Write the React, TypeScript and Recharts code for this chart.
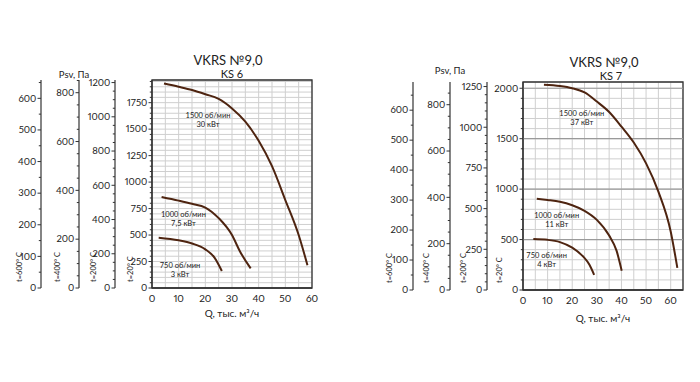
import React from 'react';
import { ComposedChart, Line, XAxis, YAxis, CartesianGrid, ReferenceArea, ReferenceLine, Scatter } from 'recharts';

const FONT = 'Lato, "DejaVu Sans", sans-serif';
const CURVE = '#4e2410';
const TXT = '#222';
const NUM_STYLE: React.CSSProperties = { fontVariantNumeric: 'proportional-nums' };

// ---------- KS 6 (left panel) ----------
const ks6_1500 = [
  { q: 4.5, p: 1930 }, { q: 10, p: 1900 }, { q: 15, p: 1870 }, { q: 20, p: 1830 },
  { q: 25, p: 1785 }, { q: 30, p: 1695 }, { q: 35, p: 1570 }, { q: 40, p: 1390 },
  { q: 45, p: 1150 }, { q: 50, p: 830 }, { q: 55, p: 500 }, { q: 58.3, p: 215 },
];
const ks6_1000 = [
  { q: 3.6, p: 860 }, { q: 10, p: 825 }, { q: 15, p: 795 }, { q: 20, p: 760 },
  { q: 25, p: 660 }, { q: 30, p: 500 }, { q: 33, p: 345 }, { q: 37, p: 185 },
];
const ks6_750 = [
  { q: 2.5, p: 475 }, { q: 10, p: 450 }, { q: 15, p: 420 }, { q: 20, p: 365 },
  { q: 23.5, p: 285 }, { q: 26.2, p: 160 },
];
const ks6Labels = [
  { q: 21, p: 1634, l1: '1500 об/мин', l2: '30 кВт' },
  { q: 11.8, p: 696, l1: '1000 об/мин', l2: '7,5 кВт' },
  { q: 10.5, p: 217, l1: '750 об/мин', l2: '3 кВт' },
];

// ---------- KS 7 (right panel) ----------
const ks7_1500 = [
  { q: 8.5, p: 2035 }, { q: 15, p: 2022 }, { q: 20, p: 2000 }, { q: 25, p: 1958 },
  { q: 30, p: 1868 }, { q: 35, p: 1765 }, { q: 40, p: 1620 }, { q: 45, p: 1462 },
  { q: 50, p: 1255 }, { q: 55, p: 975 }, { q: 60, p: 580 }, { q: 62.7, p: 220 },
];
const ks7_1000 = [
  { q: 5.6, p: 905 }, { q: 10, p: 893 }, { q: 15, p: 875 }, { q: 20, p: 840 },
  { q: 25, p: 785 }, { q: 30, p: 695 }, { q: 35, p: 540 }, { q: 38, p: 390 }, { q: 40.1, p: 190 },
];
const ks7_750 = [
  { q: 4.2, p: 505 }, { q: 10, p: 497 }, { q: 15, p: 475 }, { q: 20, p: 420 },
  { q: 24.5, p: 330 }, { q: 27, p: 250 }, { q: 28.9, p: 150 },
];
const ks7Labels = [
  { q: 23.9, p: 1752, l1: '1500 об/мин', l2: '37 кВт' },
  { q: 13.7, p: 744, l1: '1000 об/мин', l2: '11 кВт' },
  { q: 9.6, p: 347, l1: '750 об/мин', l2: '4 кВт' },
];

const tempLabels = ['t=20° C', 't=200° C', 't=400° C', 't=600° C'];

const range = (a: number, b: number, s: number) => {
  const r: number[] = [];
  for (let v = a; v <= b + 1e-9; v += s) r.push(v);
  return r;
};

const makeYTick = (major: number) => (props: any) => {
  const { x, y, payload } = props;
  const v = payload.value;
  const isMajor = Math.abs(v % major) < 1e-6;
  const len = isMajor ? 3.5 : 2.2;
  return (
    <g>
      <line x1={x} y1={y} x2={x - len} y2={y} stroke="#333" strokeWidth={1} />
      {isMajor && (
        <text x={x - len - 1.2} y={y} dy="0.35em" textAnchor="end" fontSize={9.5} fill={TXT} fontFamily={FONT} style={NUM_STYLE}>
          {v}
        </text>
      )}
    </g>
  );
};

const makeXTick = (maxLabel: number, dy: number) => (props: any) => {
  const { x, y, payload } = props;
  const v = payload.value;
  if (v % 10 !== 0 || v > maxLabel) return <g />;
  return (
    <text x={x} y={y + dy} textAnchor="middle" fontSize={10} fill={TXT} fontFamily={FONT} style={NUM_STYLE}>
      {v}
    </text>
  );
};

const makeTempLabel = (text: string, dx: number, dyBottom: number) => (props: any) => {
  const vb = props.viewBox || {};
  const x = vb.x + vb.width - dx;
  const y = vb.y + vb.height - dyBottom;
  return (
    <text x={x} y={y} transform={`rotate(-90 ${x} ${y})`} fontSize={7.5} fill={TXT} fontFamily={FONT} textAnchor="start">
      {text}
    </text>
  );
};

const makeXLabel = (dy: number) => (props: any) => {
  const vb = props.viewBox || {};
  return (
    <text x={vb.x + vb.width / 2} y={vb.y + dy} textAnchor="middle" fontSize={10} fill={TXT} fontFamily={FONT}>
      Q, тыс. м³/ч
    </text>
  );
};

const curveLabelShape = (props: any) => {
  const { cx, cy, payload } = props;
  return (
    <g>
      <text x={cx} y={cy + 2.7} textAnchor="middle" fontSize={7.5} fill={TXT} fontFamily={FONT}>{payload.l1}</text>
      <text x={cx} y={cy + 11.7} textAnchor="middle" fontSize={7.5} fill={TXT} fontFamily={FONT}>{payload.l2}</text>
    </g>
  );
};

type AxisCfg = { id: string; width: number; max: number; ticks: number[]; major: number; label: string };

type PanelCfg = {
  margin: { top: number; right: number; bottom: number; left: number };
  xMax: number;
  xTicks: number[];
  axes: AxisCfg[];
  curves: { q: number; p: number }[][];
  labels: { q: number; p: number; l1: string; l2: string }[];
  majorLines: number[];
  xLabelDy: number;
  tempDx: number;
  tempDy: number;
  xTickDy: number;
};

const MAIN = 'y0';

function Panel({ cfg }: { cfg: PanelCfg }) {
  const main = cfg.axes[0];
  return (
    <ComposedChart width={350} height={382} margin={cfg.margin}>
      <CartesianGrid yAxisId={MAIN} stroke="#cfcfcf" strokeWidth={1} />
      {cfg.majorLines.map((v) => (
        <ReferenceLine key={v} yAxisId={MAIN} y={v} stroke="#9a9a9a" strokeWidth={1.2} />
      ))}
      <XAxis
        dataKey="q"
        type="number"
        domain={[0, cfg.xMax]}
        ticks={cfg.xTicks}
        interval={0}
        allowDataOverflow
        tickLine={false}
        tickSize={0}
        tickMargin={0}
        height={30}
        axisLine={{ stroke: '#333', strokeWidth: 1.3 }}
        tick={makeXTick(60, cfg.xTickDy)}
        label={makeXLabel(cfg.xLabelDy)}
      />
      {cfg.axes.map((a, i) => (
        <YAxis
          key={a.id}
          yAxisId={a.id}
          dataKey={i === 0 ? 'p' : undefined}
          orientation="left"
          type="number"
          width={a.width}
          domain={[0, a.max]}
          ticks={a.ticks}
          interval={0}
          allowDataOverflow
          tickLine={false}
          tickSize={0}
          tickMargin={0}
          axisLine={{ stroke: '#333', strokeWidth: 1.2 }}
          tick={makeYTick(a.major)}
          label={makeTempLabel(a.label, cfg.tempDx, cfg.tempDy)}
        />
      ))}
      <ReferenceArea
        yAxisId={MAIN}
        x1={0}
        x2={cfg.xMax}
        y1={0}
        y2={main.max}
        fill="none"
        fillOpacity={0}
        stroke="#333"
        strokeWidth={1.3}
      />
      {cfg.curves.map((c, i) => (
        <Line
          key={i}
          yAxisId={MAIN}
          data={c}
          dataKey="p"
          type="monotone"
          stroke={CURVE}
          strokeWidth={2}
          dot={false}
          isAnimationActive={false}
        />
      ))}
      <Scatter yAxisId={MAIN} data={cfg.labels} dataKey="p" shape={curveLabelShape} isAnimationActive={false} />
    </ComposedChart>
  );
}

const leftCfg: PanelCfg = {
  margin: { top: 80, right: 38, bottom: 64, left: 8 },
  xMax: 60,
  xTicks: range(0, 60, 5),
  axes: [
    { id: 'y0', width: 37, max: 1964, ticks: range(0, 1950, 50), major: 250, label: tempLabels[0] },
    { id: 'y1', width: 36, max: 1215, ticks: range(0, 1200, 50), major: 200, label: tempLabels[1] },
    { id: 'y2', width: 38, max: 852, ticks: range(0, 850, 50), major: 200, label: tempLabels[2] },
    { id: 'y3', width: 33, max: 658, ticks: range(0, 650, 50), major: 100, label: tempLabels[3] },
  ],
  curves: [ks6_1500, ks6_1000, ks6_750],
  labels: ks6Labels,
  majorLines: [],
  xLabelDy: 29,
  tempDx: 19.5,
  tempDy: 6,
  xTickDy: 13.5,
};

const rightCfg: PanelCfg = {
  margin: { top: 82, right: 17, bottom: 62, left: 28 },
  xMax: 65,
  xTicks: range(0, 65, 5),
  axes: [
    { id: 'y0', width: 36, max: 2062, ticks: range(0, 2000, 100), major: 500, label: tempLabels[0] },
    { id: 'y1', width: 37, max: 1278, ticks: range(0, 1250, 50), major: 250, label: tempLabels[1] },
    { id: 'y2', width: 37, max: 898, ticks: range(0, 850, 50), major: 200, label: tempLabels[2] },
    { id: 'y3', width: 35, max: 694, ticks: range(0, 650, 50), major: 100, label: tempLabels[3] },
  ],
  curves: [ks7_1500, ks7_1000, ks7_750],
  labels: ks7Labels,
  majorLines: [500, 1000, 1500, 2000],
  xLabelDy: 32,
  tempDx: 21.5,
  tempDy: 7,
  xTickDy: 14,
};

const textStyle = (cx: number, cy: number, size: number): React.CSSProperties => ({
  position: 'absolute',
  left: cx,
  top: cy,
  transform: 'translate(-50%, -50%)',
  whiteSpace: 'nowrap',
  lineHeight: 1,
  fontSize: size,
  fontFamily: FONT,
  color: TXT,
});

export default function App() {
  return (
    <div style={{ position: 'absolute', left: 0, top: 0, width: 700, height: 382, background: '#fff' }}>
      <div style={{ position: 'absolute', left: 0, top: 0 }}>
        <Panel cfg={leftCfg} />
      </div>
      <div style={{ position: 'absolute', left: 350, top: 0 }}>
        <Panel cfg={rightCfg} />
      </div>
      <div style={textStyle(228, 59.5, 13)}>VKRS №9,0</div>
      <div style={textStyle(232, 73, 11)}>KS 6</div>
      <div style={textStyle(604, 61.5, 13)}>VKRS №9,0</div>
      <div style={textStyle(611, 74.5, 11)}>KS 7</div>
      <div style={textStyle(74, 75, 9.5)}>Psv, Па</div>
      <div style={textStyle(450, 71, 9.5)}>Psv, Па</div>
    </div>
  );
}
